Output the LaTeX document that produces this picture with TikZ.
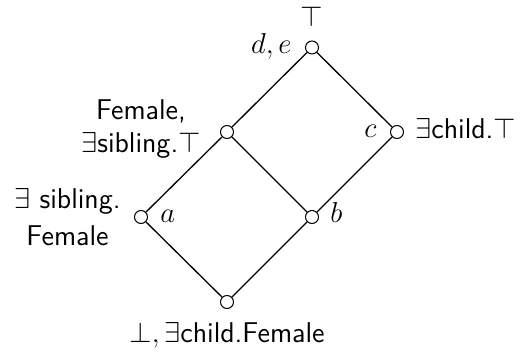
\documentclass[tikz,border=0pt]{standalone}
\begin{document}
\begin{tikzpicture}[x=0.5pt,y=-0.5pt,
  font=\fontsize{14.3}{16.5}\selectfont\sffamily,
  v/.style={circle,draw,inner sep=0pt,minimum size=6.5pt,line width=0.5pt},
  edge/.style={line width=0.65pt},
  lbl/.style={inner sep=0pt}]
\useasboundingbox (0,0) rectangle (521,352);
\node[v] (top) at (312,47.5) {};
\node[v] (m) at (227,132) {};
\node[v] (c) at (397,132) {};
\node[v] (a) at (141,217) {};
\node[v] (b) at (312,217) {};
\node[v] (bot) at (227,302) {};
\draw[edge] (top) -- (m);
\draw[edge] (top) -- (c);
\draw[edge] (m) -- (a);
\draw[edge] (m) -- (b);
\draw[edge] (c) -- (b);
\draw[edge] (a) -- (bot);
\draw[edge] (b) -- (bot);
\node[lbl,anchor=base] (ltop) at (312,27) {$\top$};
\node[lbl,anchor=base east] (lde) at (292,54) {$d,e$};
\node[lbl,anchor=base east] (lc) at (377,138) {$c$};
\node[lbl,anchor=base west] (lc2) at (415,139) {$\exists$child.$\top$};
\node[lbl,anchor=south,align=center] (lm) at (141,158.5) {Female,\\$\exists$sibling.$\top$};
\node[lbl,anchor=south,align=center,font=\fontsize{14.3}{18.5}\selectfont\sffamily] (la2) at (67.5,246) {$\exists$ sibling.\\Female};
\node[lbl,anchor=base west] (la) at (160,223) {$a$};
\node[lbl,anchor=base west] (lb) at (330,223) {$b$};
\node[lbl,anchor=base] (lbot) at (227,343) {$\bot,\exists$child.Female};
\end{tikzpicture}
\end{document}
